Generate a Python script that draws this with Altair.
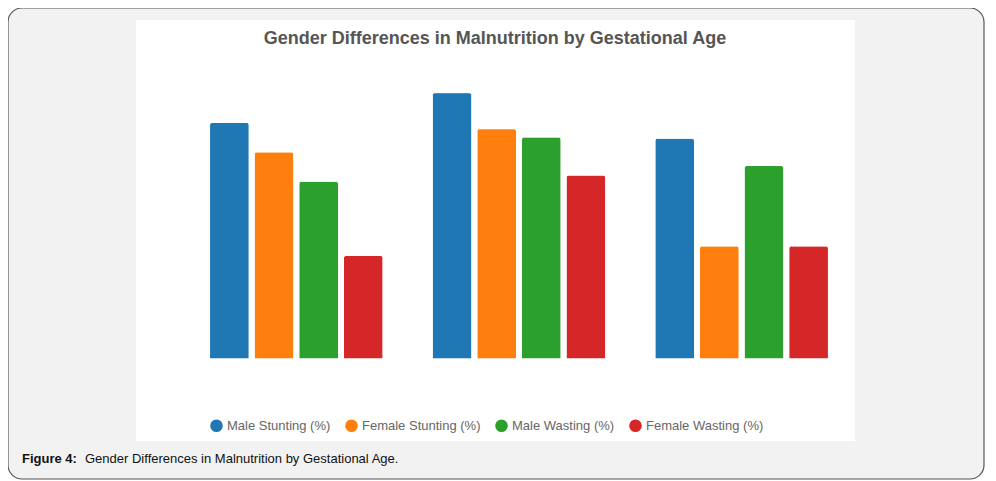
import altair as alt
import pandas as pd

groups = ['<34 weeks', '34–37 weeks', '>37 weeks']
series = ['Male Stunting (%)', 'Female Stunting (%)', 'Male Wasting (%)', 'Female Wasting (%)']
male_stunting = [57.1, 50.0 + 14.3, 53.3]
female_stunting = [50.0, 55.6, 27.3]
male_wasting = [42.9, 53.6, 46.7]
female_wasting = [25.0, 44.4, 27.3]
colors = ['#1f77b4', '#ff7f0e', '#2ca02c', '#d62728']

rows = []
for i, g in enumerate(groups):
    for s, vals in zip(series, [male_stunting, female_stunting, male_wasting, female_wasting]):
        rows.append({'group': g, 'series': s, 'value': vals[i]})
df = pd.DataFrame(rows)
dummy = pd.DataFrame({'a': [0]})

# plot area spans x 0..668, y 0..290 in pixel space
frame = alt.Chart(dummy).mark_rect(
    fill='#f2f2f2', stroke='#555555', strokeWidth=1.2, cornerRadius=14
).encode(x=alt.value(-177), x2=alt.value(799), y=alt.value(-61), y2=alt.value(410))

panel = alt.Chart(dummy).mark_rect(fill='white').encode(
    x=alt.value(-49), x2=alt.value(670), y=alt.value(-49), y2=alt.value(372)
)

bars = alt.Chart(df).mark_bar(
    cornerRadiusTopLeft=3, cornerRadiusTopRight=3, stroke='white', strokeWidth=1
).encode(
    x=alt.X('group:N', sort=groups, title='Gestational Age',
            scale=alt.Scale(paddingInner=0, paddingOuter=0),
            axis=alt.Axis(labelAngle=0, bandPosition=0, grid=True, gridColor='#e6e6e6',
                          domainColor='#dddddd', tickColor='#dddddd', tickSize=8,
                          labelColor='#666666', labelFontSize=11, labelPadding=6,
                          titleColor='#666666', titleFontSize=11, titleFontWeight='normal',
                          titlePadding=6, labelFont='Liberation Sans', titleFont='Liberation Sans')),
    xOffset=alt.XOffset('series:N', sort=series,
                        scale=alt.Scale(paddingInner=0.11, paddingOuter=0.55)),
    y=alt.Y('value:Q', title='Percentage (%)',
            scale=alt.Scale(domain=[0, 70]),
            axis=alt.Axis(values=list(range(0, 71, 10)), grid=True, gridColor='#e6e6e6',
                          domain=False, tickColor='#dddddd', tickSize=8,
                          labelColor='#666666', labelFontSize=11, labelPadding=6,
                          titleColor='#666666', titleFontSize=10, titleFontWeight='normal',
                          titlePadding=10, labelFont='Liberation Sans', titleFont='Liberation Sans')),
    color=alt.Color('series:N', sort=series, scale=alt.Scale(domain=series, range=colors),
                    legend=alt.Legend(orient='none', legendX=25, legendY=350, direction='horizontal',
                                      title=None, symbolType='circle', symbolSize=160,
                                      symbolStrokeWidth=0, labelFontSize=13, labelColor='#666666',
                                      labelFont='Liberation Sans', columnPadding=14)),
)

title = alt.Chart(dummy).mark_text(
    text='Gender Differences in Malnutrition by Gestational Age', fontSize=18,
    fontWeight='bold', color='#555555', font='Liberation Sans'
).encode(x=alt.value(310), y=alt.value(-30))

cap_bold = alt.Chart(dummy).mark_text(
    text='Figure 4:', fontSize=13, fontWeight='bold', color='#111111', align='left',
    font='Liberation Sans'
).encode(x=alt.value(-163), y=alt.value(390))

cap = alt.Chart(dummy).mark_text(
    text='Gender Differences in Malnutrition by Gestational Age.', fontSize=13,
    color='#111111', align='left', font='Liberation Sans'
).encode(x=alt.value(-100), y=alt.value(390))

chart = alt.layer(frame, panel, bars, title, cap_bold, cap).properties(
    width=668, height=290,
    autosize=alt.AutoSizeParams(type='none'),
    padding={'left': 177, 'top': 61, 'right': 135, 'bottom': 122},
    background='white'
).configure_view(stroke=None)

chart.save('out.html', embed_options={'renderer': 'svg', 'actions': False})
